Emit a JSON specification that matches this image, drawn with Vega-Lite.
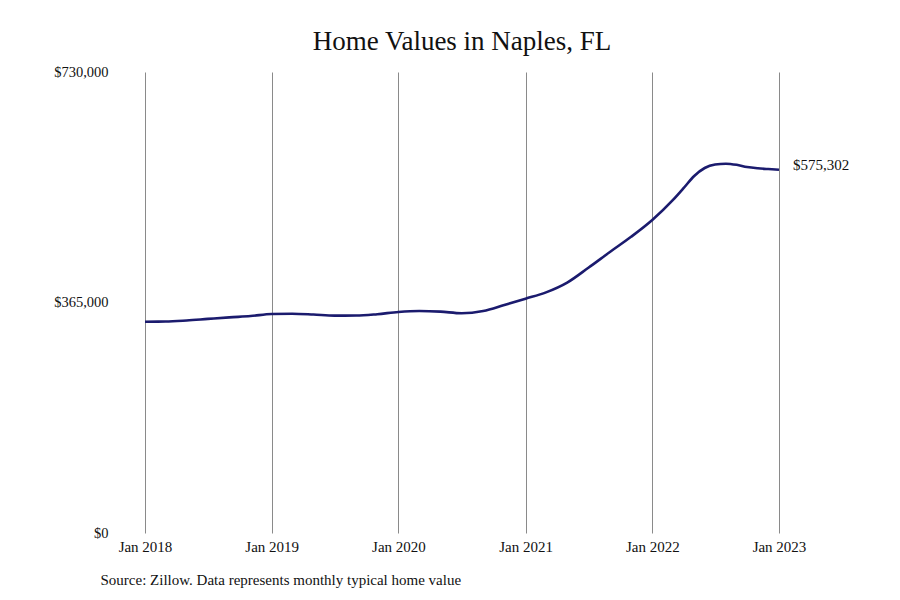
{
  "$schema": "https://vega.github.io/schema/vega-lite/v6.json",
  "width": 634,
  "height": 461,
  "autosize": {"type": "none"},
  "padding": {"left": 145, "top": 72, "right": 121, "bottom": 67},
  "background": "white",
  "title": {
    "text": "Home Values in Naples, FL",
    "font": "Liberation Serif",
    "fontSize": 27,
    "fontWeight": "normal",
    "color": "#111",
    "offset": 8
  },
  "data": {
    "values": [
      {"date": "2018-01-01", "value": 334600},
      {"date": "2018-03-01", "value": 334800},
      {"date": "2018-05-01", "value": 336500},
      {"date": "2018-07-01", "value": 339000},
      {"date": "2018-09-01", "value": 341500},
      {"date": "2018-11-01", "value": 343500},
      {"date": "2019-01-01", "value": 346800},
      {"date": "2019-03-01", "value": 347300},
      {"date": "2019-05-01", "value": 346000},
      {"date": "2019-07-01", "value": 344200},
      {"date": "2019-09-01", "value": 344300},
      {"date": "2019-11-01", "value": 346500},
      {"date": "2020-01-01", "value": 350000},
      {"date": "2020-03-01", "value": 351500},
      {"date": "2020-05-01", "value": 350500},
      {"date": "2020-07-01", "value": 348000},
      {"date": "2020-09-01", "value": 351500},
      {"date": "2020-11-01", "value": 361000},
      {"date": "2021-01-01", "value": 371000},
      {"date": "2021-03-01", "value": 381000},
      {"date": "2021-05-01", "value": 396500},
      {"date": "2021-07-01", "value": 420000},
      {"date": "2021-09-01", "value": 445000},
      {"date": "2021-11-01", "value": 469000},
      {"date": "2022-01-01", "value": 495600},
      {"date": "2022-03-01", "value": 527000},
      {"date": "2022-04-01", "value": 546000},
      {"date": "2022-05-01", "value": 565000},
      {"date": "2022-06-01", "value": 578000},
      {"date": "2022-07-01", "value": 583500},
      {"date": "2022-08-01", "value": 584800},
      {"date": "2022-09-01", "value": 583000},
      {"date": "2022-10-01", "value": 579500},
      {"date": "2022-11-01", "value": 577500},
      {"date": "2022-12-01", "value": 576300},
      {"date": "2023-01-01", "value": 575302}
    ]
  },
  "encoding": {
    "x": {
      "field": "date",
      "type": "temporal",
      "scale": {
        "type": "utc",
        "domain": [
          {"year": 2018, "month": 1, "date": 1, "utc": true},
          {"year": 2023, "month": 1, "date": 1, "utc": true}
        ],
        "nice": false
      },
      "axis": {
        "values": [
          {"year": 2018, "month": 1, "date": 1, "utc": true},
          {"year": 2019, "month": 1, "date": 1, "utc": true},
          {"year": 2020, "month": 1, "date": 1, "utc": true},
          {"year": 2021, "month": 1, "date": 1, "utc": true},
          {"year": 2022, "month": 1, "date": 1, "utc": true},
          {"year": 2023, "month": 1, "date": 1, "utc": true}
        ],
        "labelExpr": "utcFormat(datum.value, '%b %Y')",
        "labelFlush": false,
        "labelOverlap": false,
        "grid": true,
        "gridColor": "#8a8a8a",
        "gridOpacity": 1,
        "gridWidth": 1,
        "domain": false,
        "ticks": false,
        "labelPadding": 6,
        "labelFont": "Liberation Serif",
        "labelFontSize": 15,
        "labelColor": "#111",
        "title": "Source: Zillow. Data represents monthly typical home value",
        "titleFont": "Liberation Serif",
        "titleFontSize": 15,
        "titleFontWeight": "normal",
        "titleColor": "#111",
        "titleAnchor": "start",
        "titleX": -45,
        "titlePadding": 18
      }
    },
    "y": {
      "field": "value",
      "type": "quantitative",
      "scale": {"domain": [0, 730000], "nice": false},
      "axis": {
        "values": [0, 365000, 730000],
        "format": "$,.0f",
        "grid": false,
        "domain": false,
        "ticks": false,
        "labelPadding": 37,
        "labelFont": "Liberation Serif",
        "labelFontSize": 14.5,
        "labelColor": "#111",
        "title": null
      }
    }
  },
  "layer": [
    {
      "mark": {
        "type": "line",
        "interpolate": "monotone",
        "color": "#1b1b6e",
        "strokeWidth": 2.6
      }
    },
    {
      "transform": [{"filter": "datum.value == 575302"}],
      "mark": {
        "type": "text",
        "align": "left",
        "dx": 14,
        "dy": -5,
        "font": "Liberation Serif",
        "fontSize": 15,
        "color": "#111"
      },
      "encoding": {
        "text": {"field": "value", "type": "quantitative", "format": "$,.0f"}
      }
    }
  ],
  "config": {"view": {"stroke": null}}
}
